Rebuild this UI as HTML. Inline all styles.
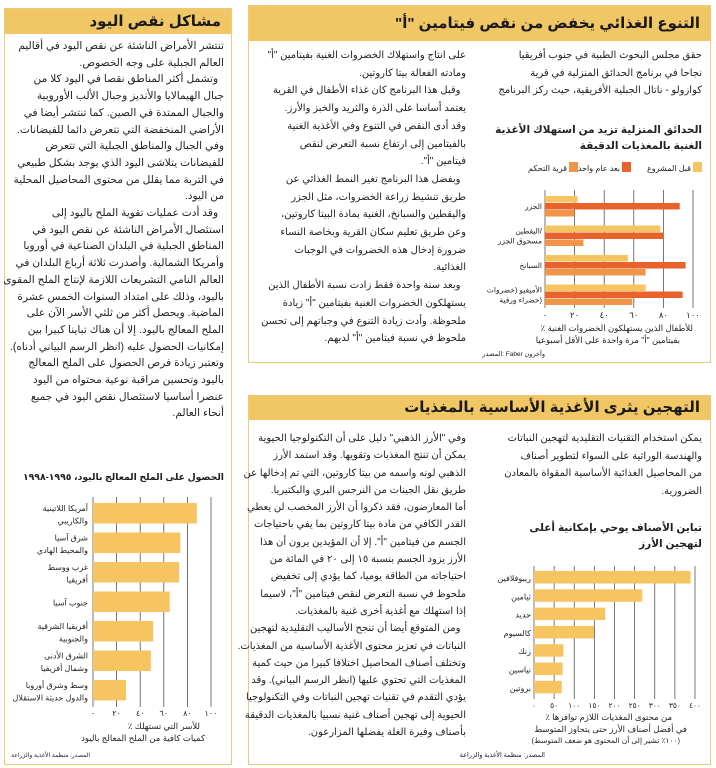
<!DOCTYPE html>
<html lang="ar"><head><meta charset="utf-8">
<style>
body{margin:0;width:716px;height:768px;background:#fff;position:relative;overflow:hidden;font-family:"Liberation Sans","DejaVu Sans",sans-serif;color:#222}
.box{position:absolute;border:1.5px solid #eccb7a;background:#fff;box-sizing:border-box}
.hdr{position:absolute;left:0;right:0;top:0;background:#f1c766;direction:rtl;font-weight:bold;font-size:15px;color:#1a1a1a;padding-right:10px;box-sizing:border-box}
.txt{position:absolute;direction:rtl;text-align:right;font-size:10px;white-space:nowrap;color:#222}
svg{position:absolute;left:0;top:0}
svg text{font-family:"Liberation Sans","DejaVu Sans",sans-serif}
</style></head><body>

<div class="box" style="left:4px;top:8px;width:228px;height:757px">
 <div class="hdr" style="height:25px;line-height:25px">مشاكل نقص اليود</div>
</div>
<div class="txt" style="left:8px;width:216px;top:38px;line-height:16.7px;font-size:10.6px">
تنتشر الأمراض الناشئة عن نقص اليود في أقاليم<br>العالم الجبلية على وجه الخصوص.<br>&nbsp;&nbsp;وتشمل أكثر المناطق نقصا في اليود كلا من<br>جبال الهيمالايا والأنديز وجبال الألب الأوروبية<br>والجبال الممتدة في الصين. كما تنتشر أيضا في<br>الأراضي المنخفضة التي تتعرض دائما للفيضانات.<br>وفي الجبال والمناطق الجبلية التي تتعرض<br>للفيضانات يتلاشى اليود الذي يوجد بشكل طبيعي<br>في التربة مما يقلل من محتوى المحاصيل المحلية<br>من اليود.<br>&nbsp;&nbsp;وقد أدت عمليات تقوية الملح باليود إلى<br>استئصال الأمراض الناشئة عن نقص اليود في<br>المناطق الجبلية في البلدان الصناعية في أوروبا<br>وأمريكا الشمالية. وأصدرت ثلاثة أرباع البلدان في<br>العالم النامي التشريعات اللازمة لإنتاج الملح المقوى<br>باليود، وذلك على امتداد السنوات الخمس عشرة<br>الماضية. ويحصل أكثر من ثلثي الأسر الآن على<br>الملح المعالج باليود. إلا أن هناك تباينا كبيرا بين<br>إمكانيات الحصول عليه (انظر الرسم البياني أدناه).<br>وتعتبر زيادة فرص الحصول على الملح المعالج<br>باليود وتحسين مراقبة نوعية محتواه من اليود<br>عنصرا أساسيا لاستئصال نقص اليود في جميع<br>أنحاء العالم.
</div>

<div class="box" style="left:248px;top:5px;width:463px;height:358px">
 <div class="hdr" style="height:35px;line-height:35px">التنوع الغذائي يخفض من نقص فيتامين "أ"</div>
</div>
<div class="txt" style="left:505px;width:197px;top:47px;line-height:17.5px">
حقق مجلس البحوث الطبية في جنوب أفريقيا<br>نجاحا في برنامج الحدائق المنزلية في قرية<br>كوازولو - ناتال الجبلية الأفريقية، حيث ركز البرنامج
</div>
<div class="txt" style="left:262px;width:204px;top:47px;line-height:17.7px">
على انتاج واستهلاك الخضروات الغنية بفيتامين "أ"<br>ومادته الفعالة بيتا كاروتين.<br>&nbsp;&nbsp;وقبل هذا البرنامج كان غذاء الأطفال في القرية<br>يعتمد أساسا على الذرة والثريد والخبز والأرز.<br>وقد أدى النقص في التنوع وفي الأغذية الغنية<br>بالفيتامين إلى ارتفاع نسبة التعرض لنقص<br>فيتامين "أ".<br>&nbsp;&nbsp;وبفضل هذا البرنامج تغير النمط الغذائي عن<br>طريق تنشيط زراعة الخضروات، مثل الجزر<br>واليقطين والسبانخ، الغنية بمادة البيتا كاروتين،<br>وعن طريق تعليم سكان القرية وبخاصة النساء<br>ضرورة إدخال هذه الخضروات في الوجبات<br>الغذائية.<br>&nbsp;&nbsp;وبعد سنة واحدة فقط زادت نسبة الأطفال الذين<br>يستهلكون الخضروات الغنية بفيتامين "أ" زيادة<br>ملحوظة. وأدت زيادة التنوع في وجباتهم إلى تحسن<br>ملحوظ في نسبة فيتامين "أ" لديهم.
</div>

<div class="box" style="left:248px;top:395px;width:463px;height:370px">
 <div class="hdr" style="height:24px;line-height:24px">التهجين يثرى الأغذية الأساسية بالمغذيات</div>
</div>
<div class="txt" style="left:505px;width:197px;top:430px;line-height:17.5px">
يمكن استخدام التقنيات التقليدية لتهجين النباتات<br>والهندسة الوراثية على السواء لتطوير أصناف<br>من المحاصيل الغذائية الأساسية المقواة بالمعادن<br>الضرورية.
</div>
<div class="txt" style="left:262px;width:204px;top:430px;line-height:17.3px">
وفي "الأرز الذهبي" دليل على أن التكنولوجيا الحيوية<br>يمكن أن تنتج المغذيات وتقويها. وقد استمد الأرز<br>الذهبي لونه واسمه من بيتا كاروتين، التي تم إدخالها عن<br>طريق نقل الجينات من النرجس البري والبكتيريا.<br>أما المعارضون، فقد ذكروا أن الأرز المخصب لن يعطي<br>القدر الكافي من مادة بيتا كاروتين بما يفي باحتياجات<br>الجسم من فيتامين "أ". إلا أن المؤيدين يرون أن هذا<br>الأرز يزود الجسم بنسبة ١٥ إلى ٢٠ في المائة من<br>احتياجاته من الطاقة يوميا، كما يؤدي إلى تخفيض<br>ملحوظ في نسبة التعرض لنقص فيتامين "أ"، لاسيما<br>إذا استهلك مع أغذية أخرى غنية بالمغذيات.<br>&nbsp;&nbsp;ومن المتوقع أيضا أن تنجح الأساليب التقليدية لتهجين<br>النباتات في تعزيز محتوى الأغذية الأساسية من المغذيات.<br>وتختلف أصناف المحاصيل اختلافا كبيرا من حيث كمية<br>المغذيات التي تحتوي عليها (انظر الرسم البياني). وقد<br>يؤدي التقدم في تقنيات تهجين النباتات وفي التكنولوجيا<br>الحيوية إلى تهجين أصناف غنية نسبيا بالمغذيات الدقيقة<br>بأصناف وفيرة الغلة يفضلها المزارعون.
</div>

<svg id="charts" width="716" height="768"></svg>

<script>
// ---------- Chart 1: home gardens ----------
const c1Categories = [["الجزر"], ["اليقطين/", "مسحوق الجزر"], ["السبانخ"], ["الأميفيو (خضروات", "خضراء ورقية)"]];
const c1Before = [22, 78, 56, 68];
const c1After = [91, 80, 95, 93];
const c1Control = [20, 26, 68, 59];
const c1Ticks = ["٠", "٢٠", "٤٠", "٦٠", "٨٠", "١٠٠"];
const c1TickValues = [0, 20, 40, 60, 80, 100];
const c1Series = ["قبل المشروع", "بعد عام واحد", "قرية التحكم"];

// ---------- Chart 2: rice varieties ----------
const c2Categories = ["ريبوفلافين", "ثيامين", "حديد", "كالسيوم", "زنك", "نياسين", "بروتين"];
const c2Values = [389, 269, 177, 149, 73, 71, 69];
const c2Ticks = ["٠", "٥٠", "١٠٠", "١٥٠", "٢٠٠", "٢٥٠", "٣٠٠", "٣٥٠", "٤٠٠"];
const c2TickValues = [0, 50, 100, 150, 200, 250, 300, 350, 400];

// ---------- Chart 3: iodized salt ----------
const c3Categories = [["أمريكا اللاتينية", "والكاريبي"], ["شرق آسيا", "والمحيط الهادي"], ["غرب ووسط", "أفريقيا"], ["جنوب آسيا"], ["أفريقيا الشرقية", "والجنوبية"], ["الشرق الأدنى", "وشمال أفريقيا"], ["وسط وشرق أوروبا", "والدول حديثة الاستقلال"]];
const c3Values = [88, 74, 73, 65, 51, 49, 28];
const c3Ticks = ["٠", "٢٠", "٤٠", "٦٠", "٨٠", "١٠٠"];
const c3TickValues = [0, 20, 40, 60, 80, 100];

const svg = document.getElementById('charts');
const NS = 'http://www.w3.org/2000/svg';
function mk(tag, attrs, parent) {
  const e = document.createElementNS(NS, tag);
  for (const k in attrs) e.setAttribute(k, attrs[k]);
  (parent || svg).appendChild(e);
  return e;
}
function txt(x, y, s, size, anchor, parent, weight) {
  const t = mk('text', {x: x, y: y, 'font-size': size, 'text-anchor': anchor || 'end', fill: '#222'}, parent);
  if (weight) t.setAttribute('font-weight', weight);
  t.textContent = s;
  return t;
}

// ===== chart 1 =====
(function () {
  const g = mk('g', {});
  
  
  const x0 = 545, x1 = 693, max = 100;
  const xs = v => x0 + (x1 - x0) * v / max;
  const t1 = txt(702, 133, 'الحدائق المنزلية تزيد من استهلاك الأغذية', 10.5, 'end', g, 'bold');
  
  const t2 = txt(702, 149, 'الغنية بالمغذيات الدقيقة', 10.5, 'end', g, 'bold');
  
  const colors = ['#f6c461', '#e9622c', '#f0954a'];
  const legX = [693, 622, 569];
  c1Series.forEach((s, i) => {
    const r = mk('rect', {x: legX[i], y: 162, width: 9, height: 10, fill: colors[i]}, g);
    
    
    const t = txt(legX[i] - 2, 171, s, 8, 'end', g);
    
  });
  const yTop = 190, yBot = 308;
  c1TickValues.forEach((v, i) => {
    const l = mk('line', {x1: xs(v), x2: xs(v), y1: yTop, y2: yBot, stroke: '#555', 'stroke-width': 0.8}, g);
    
    const t = txt(xs(v), 318, c1Ticks[i], 8.5, 'middle', g);
    
  });
  const groupH = 29.5, barH = 7;
  c1Categories.forEach((c, i) => {
    const gy = 196 + i * groupH;
    [c1Before, c1After, c1Control].forEach((arr, k) => {
      const r = mk('rect', {x: x0, y: gy + k * barH, width: xs(arr[i]) - x0, height: barH - 0.5, fill: colors[k]}, g);
      
      
    });
    c.forEach((p, j) => {
      const t = txt(542, gy + 13 + (j - (c.length - 1) / 2) * 10, p, 7.5, 'end', g);
      
    });
  });
  const a1 = txt(693, 331, '٪ للأطفال الذين يستهلكون الخضروات الغنية', 8.5, 'end', g);
  
  const a2 = txt(680, 343, 'بفيتامين "أ" مرة واحدة على الأقل أسبوعيا', 8.5, 'end', g);
  
  const s = txt(545, 356, 'المصدر: Faber وآخرون', 6.5, 'end', g);
  
})();

// ===== chart 2 =====
(function () {
  const g = mk('g', {});
  
  
  const x0 = 534, x1 = 695, max = 400;
  const xs = v => x0 + (x1 - x0) * v / max;
  const t1 = txt(702, 531, 'تباين الأصناف يوحي بإمكانية أعلى', 10.5, 'end', g, 'bold');
  
  const t2 = txt(702, 547, 'لتهجين الأرز', 10.5, 'end', g, 'bold');
  
  const yTop = 566, yBot = 699;
  c2TickValues.forEach((v, i) => {
    const l = mk('line', {x1: xs(v), x2: xs(v), y1: yTop, y2: yBot, stroke: '#555', 'stroke-width': 0.8}, g);
    
    const t = txt(xs(v), 708, c2Ticks[i], 7.5, 'middle', g);
    
  });
  c2Categories.forEach((c, i) => {
    const y = 571 + i * 18.3;
    const r = mk('rect', {x: x0, y: y, width: xs(c2Values[i]) - x0, height: 12.5, fill: '#f6c461'}, g);
    
    
    const t = txt(531, y + 10, c, 8, 'end', g);
    
  });
  const a1 = txt(672, 720, '٪ من محتوى المغذيات اللازم توافرها', 8.5, 'end', g);
  
  const a2 = txt(687, 732, 'في أفضل أصناف الأرز حتى يتجاوز المتوسط', 8.5, 'end', g);
  
  const a3 = txt(680, 743, '(١٠٠٪ تشير إلى أن المحتوى هو ضعف المتوسط)', 7.5, 'end', g);
  
  const s = txt(545, 757, 'المصدر: منظمة الأغذية والزراعة', 6.5, 'end', g);
  
})();

// ===== chart 3 =====
(function () {
  const g = mk('g', {});
  
  
  const x0 = 93, x1 = 211, max = 100;
  const xs = v => x0 + (x1 - x0) * v / max;
  const t1 = txt(224, 480, 'الحصول على الملح المعالج باليود، ١٩٩٥-١٩٩٨', 9.3, 'end', g, 'bold');
  
  const yTop = 497, yBot = 707;
  c3TickValues.forEach((v, i) => {
    const l = mk('line', {x1: xs(v), x2: xs(v), y1: yTop, y2: yBot, stroke: '#555', 'stroke-width': 0.8}, g);
    
    const t = txt(xs(v), 716, c3Ticks[i], 8, 'middle', g);
    
  });
  c3Categories.forEach((c, i) => {
    const y = 503 + i * 29.5;
    const r = mk('rect', {x: x0, y: y, width: xs(c3Values[i]) - x0, height: 20.5, fill: '#f6c461'}, g);
    
    
    c.forEach((p, j) => {
      const t = txt(88, y + 14 + (j - (c.length - 1) / 2) * 12.5, p, 8, 'end', g);
      
    });
  });
  const a1 = txt(200, 729, '٪ للأسر التي تستهلك', 8.5, 'end', g);
  
  const a2 = txt(205, 741, 'كميات كافية من الملح المعالج باليود', 8.5, 'end', g);
  
  const s = txt(90, 757, 'المصدر: منظمة الأغذية والزراعة', 6, 'end', g);
  
})();
</script>
</body></html>
